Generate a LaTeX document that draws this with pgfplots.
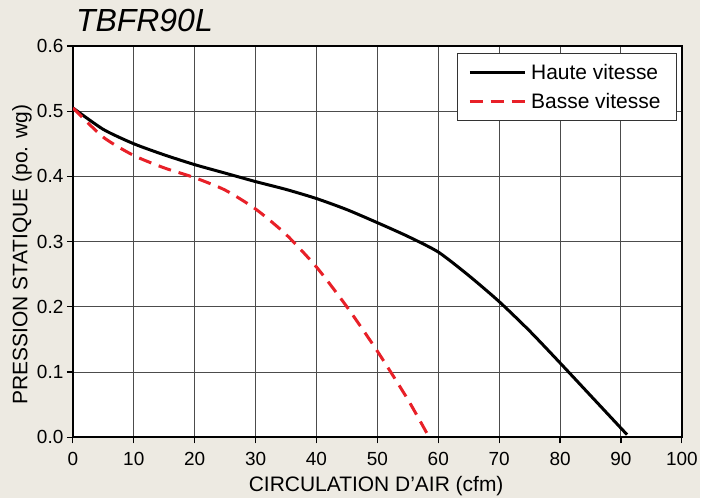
\documentclass[border=0pt]{standalone}
\usepackage{pgfplots}
\pgfplotsset{compat=1.18}
\usepackage{fontspec}
\setmainfont{Liberation Sans}
\definecolor{bgtan}{RGB}{237,234,226}
\definecolor{curvered}{RGB}{232,32,40}
\begin{document}
\begin{tikzpicture}[x=1pt,y=1pt]
  \fill[bgtan] (0,0) rectangle (701,499);
  \node[anchor=base west, inner sep=0pt, font=\fontsize{32}{36}\selectfont\itshape] at (76,467) {TBFR90L};
  \begin{axis}[
      at={(73pt,61pt)}, anchor=south west,
      scale only axis,
      width=610pt, height=392pt,
      xmin=0, xmax=100, ymin=0, ymax=0.6,
      xtick={0,10,...,100},
      ytick={0,0.1,...,0.6},
      axis background/.style={fill=white},
      axis line style={line width=2.4pt, black},
      tick style={black, line width=1.2pt},
      tick align=outside,
      major tick length=6pt,
      xtick pos=bottom, ytick pos=left,
      grid=major,
      grid style={line width=1pt, black!70},
      ticklabel style={font=\fontsize{19}{21}\selectfont},
      xticklabel style={yshift=-5pt},
      /pgf/number format/assume math mode=true,
      yticklabel style={/pgf/number format/.cd, fixed, fixed zerofill, precision=1},
      xlabel={CIRCULATION D’AIR (cfm)},
      ylabel={PRESSION STATIQUE (po. wg)},
      label style={font=\fontsize{21}{24}\selectfont},
      xlabel style={at={(axis description cs:0.498,-0.125)}, anchor=center},
      ylabel style={at={(axis description cs:-0.0836,0.467)}, anchor=center},
      legend style={at={(0.992,0.982)}, anchor=north east, draw=black!80, line width=1pt,
        font=\fontsize{21}{24}\selectfont, inner xsep=11pt, inner ysep=9pt, row sep=8pt,
        nodes={inner xsep=5pt}},
      legend cell align=left,
      legend image code/.code={\draw[#1] (0pt,0pt) -- (55pt,0pt);},
    ]
    \addplot[black, line width=3pt, smooth, tension=0.4] coordinates {
      (0,0.505) (5,0.472) (10,0.450) (15,0.433) (20,0.418) (25,0.405) (30,0.392)
      (35,0.380) (40,0.366) (45,0.349) (50,0.329) (55,0.308) (60,0.284)
      (65,0.248) (70,0.208) (75,0.163) (80,0.114) (85,0.064) (91,0.004)
    };
    \addplot[curvered, line width=3pt, dash pattern=on 13pt off 8pt, smooth, tension=0.4] coordinates {
      (0,0.505) (5,0.460) (10,0.432) (15,0.413) (20,0.398) (25,0.379) (30,0.350)
      (35,0.311) (40,0.261) (45,0.200) (50,0.132) (55,0.058) (58.5,0.0)
    };
    \legend{Haute vitesse, Basse vitesse}
  \end{axis}
\end{tikzpicture}
\end{document}
